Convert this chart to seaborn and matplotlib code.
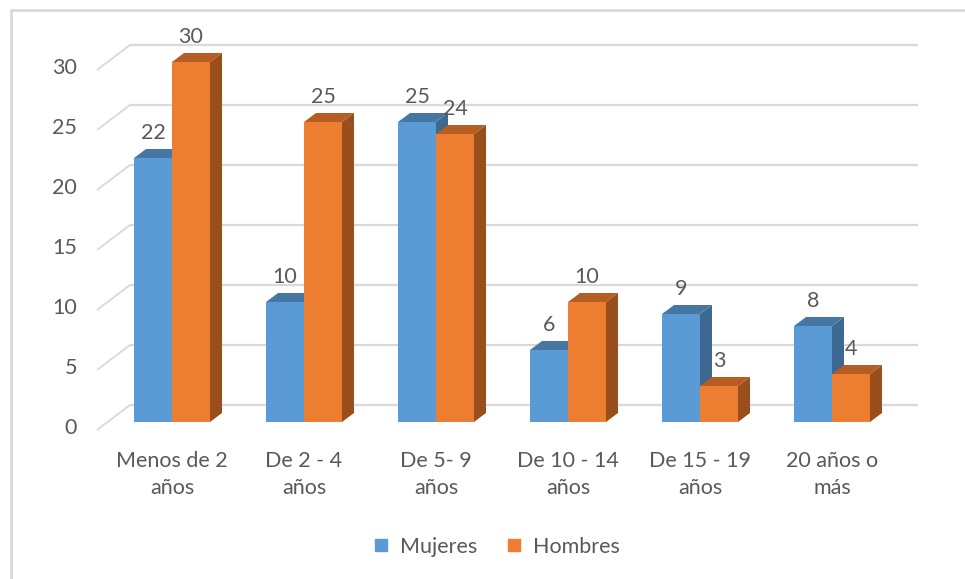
import matplotlib
matplotlib.use("Agg")
import matplotlib.pyplot as plt
from matplotlib.patches import Polygon
from matplotlib.lines import Line2D
import pandas as pd
import seaborn as sns

categories = ["Menos de 2\naños", "De 2 - 4\naños", "De 5- 9\naños",
              "De 10 - 14\naños", "De 15 - 19\naños", "20 años o\nmás"]
mujeres = [22, 10, 25, 6, 9, 8]
hombres = [30, 25, 24, 10, 3, 4]
yticks = [0, 5, 10, 15, 20, 25, 30]

front = {"Mujeres": "#5B9BD5", "Hombres": "#ED7D31"}
top = {"Mujeres": "#4677A3", "Hombres": "#B55D22"}
side = {"Mujeres": "#3D6891", "Hombres": "#9A4E1C"}
text_c = "#595959"
grid_c = "#D9D9D9"
fs = 15.5

df = pd.DataFrame({
    "cat": categories * 2,
    "sexo": ["Mujeres"] * 6 + ["Hombres"] * 6,
    "n": mujeres + hombres,
})

sns.set_theme(style="white")
plt.rcParams["font.family"] = ["Lato", "DejaVu Sans"]

W, H = 965, 579
fig = plt.figure(figsize=(W / 100, H / 100), dpi=100)
# pixel mapping: category i centre at x=172+132i, value 0 at y=422, 12 px per unit
px_l, px_r, px_t, px_b = 97, 950, 25, 440
ax = fig.add_axes([px_l / W, 1 - px_b / H, (px_r - px_l) / W, (px_b - px_t) / H])


def dx(p):
    return p / 132


def dy(p):
    return p / 12


sns.barplot(data=df, x="cat", y="n", hue="sexo", order=categories,
            hue_order=["Mujeres", "Hombres"], palette=front, width=76 / 132,
            saturation=1, legend=False, ax=ax)
ax.set_xlim((px_l - 172) / 132, (px_r - 172) / 132)
ax.set_ylim((422 - px_b) / 12, (422 - px_t) / 12)
ax.axis("off")

# back wall grid + left diagonal lines
x_back0, x_back1 = dx(130 - 172), dx(918 - 172)
x_front0 = dx(97 - 172)
for v in yticks:
    yb = v + dy(17)
    yf = v - dy(8)
    ax.plot([x_back0, x_back1], [yb, yb], color=grid_c, lw=1.6, zorder=0,
            solid_capstyle="butt")
    ax.plot([x_front0, x_back0], [yf, yb], color=grid_c, lw=1.3, zorder=0)
    ax.text(dx(77 - 172), v - dy(6), str(v), ha="right", va="center",
            fontsize=fs, color=text_c)

sdx, sdy = dx(12), dy(9)
for container, name in zip(ax.containers, ["Mujeres", "Hombres"]):
    z = 2 if name == "Mujeres" else 3
    for bar in container:
        x0 = bar.get_x()
        x1 = x0 + bar.get_width()
        h = bar.get_height()
        bar.set_zorder(z)
        bar.set_linewidth(0)
        ax.add_patch(Polygon([(x1, 0), (x1 + sdx, sdy), (x1 + sdx, h + sdy), (x1, h)],
                             closed=True, fc=side[name], ec="none", zorder=z))
        ax.add_patch(Polygon([(x0, h), (x1, h), (x1 + sdx, h + sdy), (x0 + sdx, h + sdy)],
                             closed=True, fc=top[name], ec="none", zorder=z))
        ax.text((x0 + x1) / 2, h + dy(25), f"{h:g}", ha="center", va="center",
                fontsize=fs, color=text_c, zorder=5)

for i, lab in enumerate(categories):
    ax.text(i, dy(422 - 451), lab, ha="center", va="top", fontsize=fs,
            color=text_c, linespacing=1.45)

handles = [Line2D([], [], marker="s", ls="", markersize=9, color=front[k],
                  label=k) for k in ["Mujeres", "Hombres"]]
fig.legend(handles=handles, loc="center", bbox_to_anchor=(496 / W, 1 - 547 / H),
           ncol=2, frameon=False, fontsize=fs, labelcolor=text_c,
           handlelength=0.8, handletextpad=0.5, columnspacing=1.3)

# chart border (left and top edges)
fig.add_artist(Line2D([11 / W, 11 / W], [0, 1 - 10 / H], color=grid_c, lw=2))
fig.add_artist(Line2D([11 / W, 1], [1 - 10 / H, 1 - 10 / H], color=grid_c, lw=2))

fig.savefig("out.png", dpi=100)
